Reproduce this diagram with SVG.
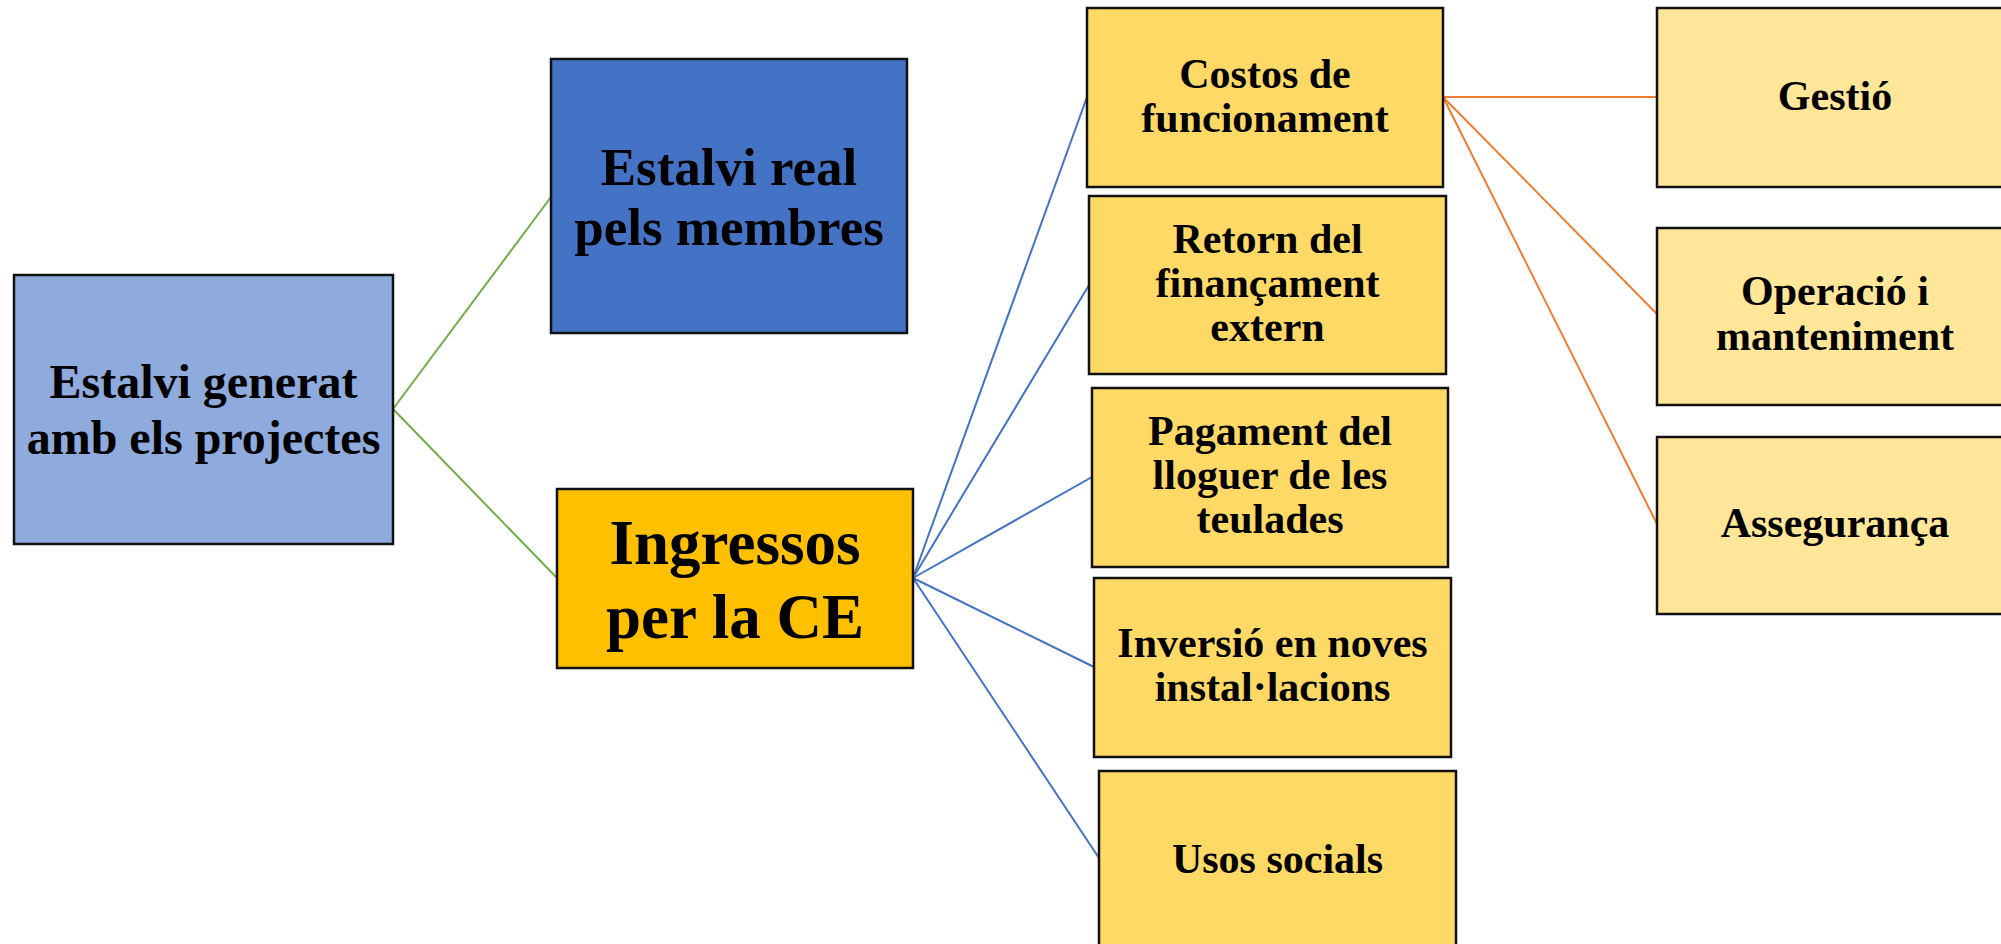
<svg xmlns="http://www.w3.org/2000/svg" width="2001" height="944" viewBox="0 0 2001 944">
<style>
.box{stroke:#111;stroke-width:2.5}
.t{font-family:"Liberation Serif","Times New Roman",serif;font-weight:bold;fill:#000;text-anchor:middle}
.g{stroke:#70AD47;stroke-width:2;fill:none}
.b{stroke:#4472C4;stroke-width:2;fill:none}
.o{stroke:#ED7D31;stroke-width:2;fill:none}
.mid{fill:#FFD966}
.right{fill:#FFE699}
</style>
<rect width="2001" height="944" fill="#fff"/>
<g id="connectors">
<line class="g" x1="393" y1="409" x2="551" y2="197"/>
<line class="g" x1="393" y1="409" x2="557" y2="578"/>
<line class="b" x1="913" y1="578" x2="1087" y2="97"/>
<line class="b" x1="913" y1="578" x2="1089" y2="285"/>
<line class="b" x1="913" y1="578" x2="1092" y2="477"/>
<line class="b" x1="913" y1="578" x2="1094" y2="667"/>
<line class="b" x1="913" y1="578" x2="1099" y2="858"/>
<line class="o" x1="1443" y1="97" x2="1657" y2="97"/>
<line class="o" x1="1443" y1="97" x2="1657" y2="314"/>
<line class="o" x1="1443" y1="97" x2="1657" y2="524"/>
</g>
<g id="n-estalvi-generat">
<rect class="box" x="14" y="275" width="379" height="269" fill="#8FAADC"/>
<text class="t" x="203.5" y="398" font-size="48">Estalvi generat</text>
<text class="t" x="203.5" y="454" font-size="48">amb els projectes</text>
</g>
<g id="n-estalvi-real">
<rect class="box" x="551" y="59" width="356" height="274" fill="#4472C4"/>
<text class="t" x="729" y="185" font-size="53">Estalvi real</text>
<text class="t" x="729" y="245" font-size="53">pels membres</text>
</g>
<g id="n-ingressos">
<rect class="box" x="557" y="489" width="356" height="179" fill="#FFC000"/>
<text class="t" x="735" y="564" font-size="63">Ingressos</text>
<text class="t" x="735" y="638" font-size="63">per la CE</text>
</g>
<g id="n-costos">
<rect class="box mid" x="1087" y="8" width="356" height="179"/>
<text class="t" x="1265" y="88" font-size="42">Costos de</text>
<text class="t" x="1265" y="132" font-size="42">funcionament</text>
</g>
<g id="n-retorn">
<rect class="box mid" x="1089" y="196" width="357" height="178"/>
<text class="t" x="1267.5" y="253" font-size="42">Retorn del</text>
<text class="t" x="1267.5" y="297" font-size="42">finançament</text>
<text class="t" x="1267.5" y="341" font-size="42">extern</text>
</g>
<g id="n-pagament">
<rect class="box mid" x="1092" y="388" width="356" height="179"/>
<text class="t" x="1270" y="445" font-size="42">Pagament del</text>
<text class="t" x="1270" y="489" font-size="42">lloguer de les</text>
<text class="t" x="1270" y="533" font-size="42">teulades</text>
</g>
<g id="n-inversio">
<rect class="box mid" x="1094" y="578" width="357" height="179"/>
<text class="t" x="1272.5" y="657" font-size="42">Inversió en noves</text>
<text class="t" x="1272.5" y="701" font-size="42">instal·lacions</text>
</g>
<g id="n-usos">
<rect class="box mid" x="1099" y="771" width="357" height="180"/>
<text class="t" x="1277.5" y="873" font-size="42">Usos socials</text>
</g>
<g id="n-gestio">
<rect class="box right" x="1657" y="8" width="356" height="179"/>
<text class="t" x="1835" y="110" font-size="42">Gestió</text>
</g>
<g id="n-operacio">
<rect class="box right" x="1657" y="228" width="356" height="177"/>
<text class="t" x="1835" y="305" font-size="42">Operació i</text>
<text class="t" x="1835" y="350" font-size="42">manteniment</text>
</g>
<g id="n-assegurança">
<rect class="box right" x="1657" y="437" width="356" height="177"/>
<text class="t" x="1835" y="537" font-size="42">Assegurança</text>
</g>
</svg>
